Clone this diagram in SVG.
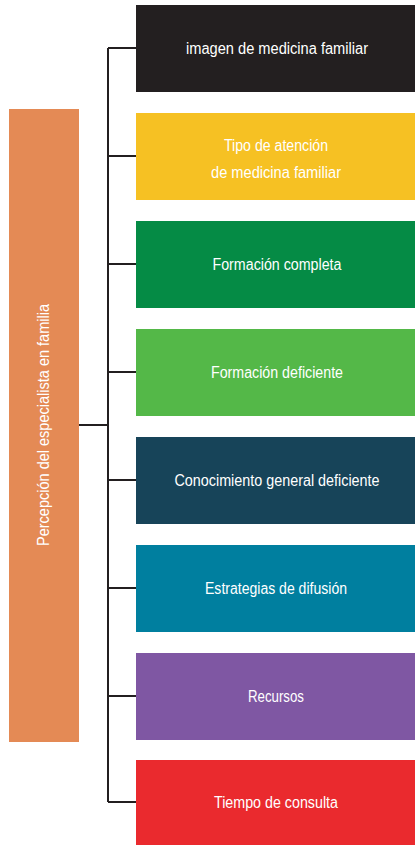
<svg xmlns="http://www.w3.org/2000/svg" width="415" height="845" viewBox="0 0 415 845">
<style>
.t{font-family:"Liberation Sans",Arial,sans-serif;font-size:16px;fill:#ffffff;text-anchor:middle}
.c{stroke:#231f20;stroke-width:2;fill:none}
</style>
<rect width="415" height="845" fill="#ffffff"/>
<g id="connectors">
<path class="c" d="M108 48V802"/>
<path class="c" d="M79 425H108"/>
<path class="c" d="M108 48H136M108 156H136M108 264H136M108 372H136M108 480H136M108 588H136M108 696H136M108 802H136"/>
</g>
<g id="root">
<rect x="9" y="109" width="70" height="633" fill="#e48a55"/>
<text class="t" transform="translate(49 425) rotate(-90)" textLength="242" lengthAdjust="spacingAndGlyphs">Percepción del especialista en familia</text>
</g>
<g id="n1"><rect x="136" y="5" width="279" height="87" fill="#231f20"/><text class="t" x="277" y="54" textLength="182" lengthAdjust="spacingAndGlyphs">imagen de medicina familiar</text></g>
<g id="n2"><rect x="136" y="113" width="279" height="87" fill="#f6c123"/><text class="t" x="276" y="151" textLength="104" lengthAdjust="spacingAndGlyphs">Tipo de atención</text><text class="t" x="276" y="178" textLength="130" lengthAdjust="spacingAndGlyphs">de medicina familiar</text></g>
<g id="n3"><rect x="136" y="221" width="279" height="87" fill="#058b45"/><text class="t" x="277" y="270" textLength="129" lengthAdjust="spacingAndGlyphs">Formación completa</text></g>
<g id="n4"><rect x="136" y="329" width="279" height="87" fill="#54b848"/><text class="t" x="277" y="378" textLength="132" lengthAdjust="spacingAndGlyphs">Formación deficiente</text></g>
<g id="n5"><rect x="136" y="437" width="279" height="87" fill="#174459"/><text class="t" x="277" y="486" textLength="205" lengthAdjust="spacingAndGlyphs">Conocimiento general deficiente</text></g>
<g id="n6"><rect x="136" y="545" width="279" height="87" fill="#007f9f"/><text class="t" x="276" y="594" textLength="142" lengthAdjust="spacingAndGlyphs">Estrategias de difusión</text></g>
<g id="n7"><rect x="136" y="653" width="279" height="87" fill="#7f57a3"/><text class="t" x="276" y="702" textLength="56" lengthAdjust="spacingAndGlyphs">Recursos</text></g>
<g id="n8"><rect x="136" y="760" width="279" height="85" fill="#ea2a2e"/><text class="t" x="276" y="808" textLength="124" lengthAdjust="spacingAndGlyphs">Tiempo de consulta</text></g>
</svg>
